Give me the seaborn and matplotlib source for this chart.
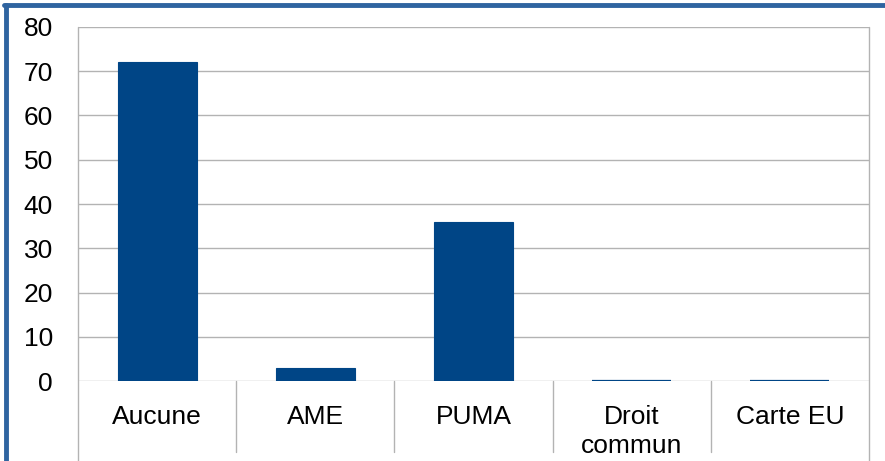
import matplotlib
matplotlib.use("Agg")
import matplotlib.pyplot as plt
import matplotlib.transforms as mtransforms
from matplotlib.lines import Line2D
import seaborn as sns

# Couverture maladie
categories = ["Aucune", "AME", "PUMA", "Droit\ncommun", "Carte EU"]
valeurs = [72, 3, 36, 0, 0]
y_ticks = [0, 10, 20, 30, 40, 50, 60, 70, 80]

sns.set_style("white")
plt.rcParams["font.family"] = ["Liberation Sans", "DejaVu Sans"]

grid_color = "#b3b3b3"
bar_color = "#004586"

fig = plt.figure(figsize=(8.85, 4.61), dpi=100)
ax = fig.add_axes([78 / 885, 80 / 461, 791 / 885, 354 / 461])

sns.barplot(x=categories, y=valeurs, color=bar_color, saturation=1,
            width=0.5, ax=ax, edgecolor=bar_color, linewidth=0.8)
# les barres nulles restent visibles comme un trait fin
for p in ax.patches:
    if p.get_height() == 0:
        p.set_linewidth(1.6)

ax.set_xlim(-0.5, len(categories) - 0.5)
ax.set_ylim(0, 80)
ax.set_yticks(y_ticks)
ax.yaxis.grid(True, color=grid_color, linewidth=1)
ax.set_axisbelow(True)
for s in ax.spines.values():
    s.set_visible(False)

ax.tick_params(axis="y", length=11, width=1, color=grid_color, pad=7,
               labelsize=19, labelcolor="black")
ax.tick_params(axis="x", length=0, pad=17, labelsize=19, labelcolor="black")
ax.set_xticks(range(len(categories)))
ax.set_xticklabels(categories, va="top", linespacing=1.3)
ax.set_xlabel("")
ax.set_ylabel("")

# lignes verticales : bords du graphique et séparateurs de catégories
trans = mtransforms.blended_transform_factory(ax.transData, ax.transAxes)
ax.plot([-0.5, -0.5], [1, -0.23], transform=trans, color=grid_color,
        linewidth=1, clip_on=False)
ax.plot([len(categories) - 0.5] * 2, [1, -0.23], transform=trans,
        color=grid_color, linewidth=1, clip_on=False)
for i in range(len(categories) - 1):
    ax.plot([i + 0.5, i + 0.5], [0, -0.2], transform=trans,
            color=grid_color, linewidth=1, clip_on=False)

# cadre bleu
bord = "#2f64a0"
fig.add_artist(Line2D([5.5 / 885, 5.5 / 885], [0, 1 - 5.5 / 461],
                      transform=fig.transFigure, color=bord, linewidth=3.5))
fig.add_artist(Line2D([5.5 / 885 - 0.002, 1], [1 - 5.5 / 461, 1 - 5.5 / 461],
                      transform=fig.transFigure, color=bord, linewidth=3.5))

fig.savefig("out.png", dpi=100)
